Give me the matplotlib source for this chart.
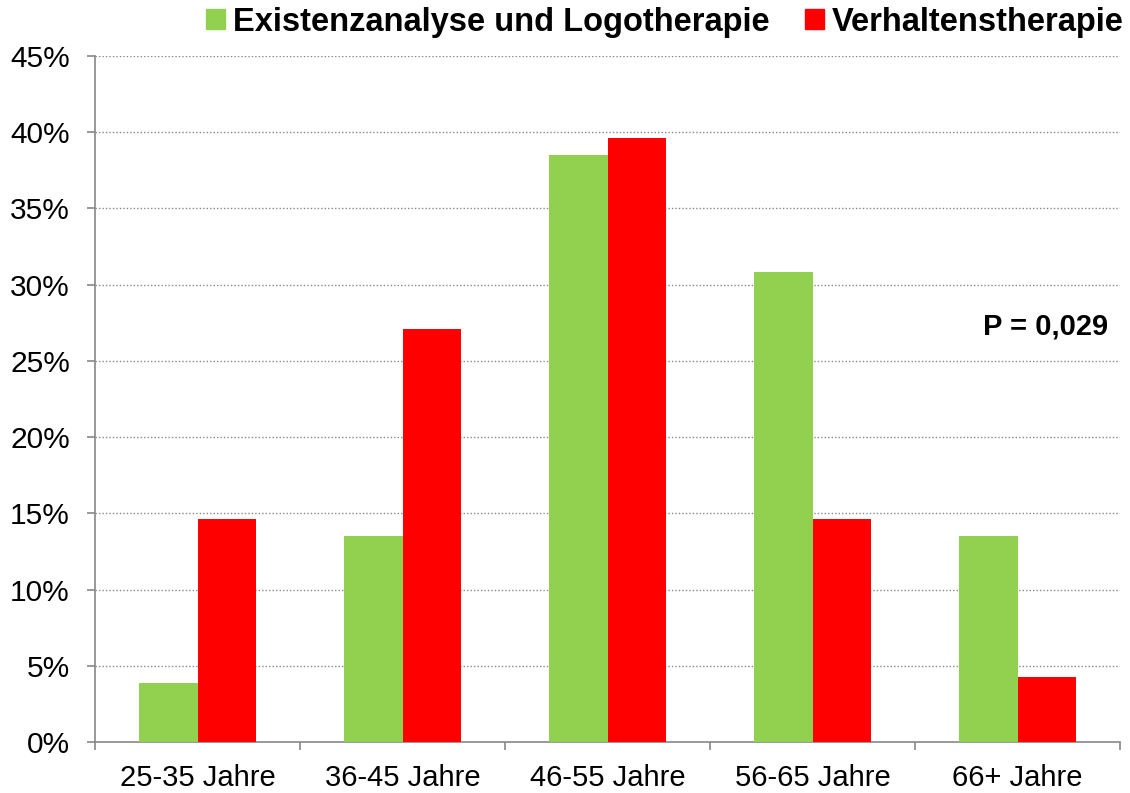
import numpy as np
import matplotlib
matplotlib.use("Agg")
import matplotlib.pyplot as plt
from matplotlib.patches import Patch
from matplotlib.ticker import PercentFormatter, MultipleLocator

# Data
categories = ["25-35 Jahre", "36-45 Jahre", "46-55 Jahre", "56-65 Jahre", "66+ Jahre"]
logo = [3.85, 13.5, 38.5, 30.8, 13.5]
verhalten = [14.6, 27.1, 39.6, 14.6, 4.25]
series_names = ["Existenzanalyse und Logotherapie", "Verhaltenstherapie"]
p_label = "P = 0,029"

green = "#92D050"
red = "#FF0000"
axis_gray = "#888888"

plt.rcParams["font.family"] = ["Liberation Sans", "DejaVu Sans"]

fig = plt.figure(figsize=(11.3, 7.93), dpi=100)
ax = fig.add_axes([95 / 1130, 1 - 742 / 793, 1025 / 1130, 686 / 793])

x = np.arange(len(categories))
w = 0.287
ax.bar(x - w / 2, logo, width=w, color=green, zorder=3)
ax.bar(x + w / 2, verhalten, width=w, color=red, zorder=3)

ax.set_xlim(-0.5, len(categories) - 0.5)
ax.set_ylim(0, 45)
ax.yaxis.set_major_locator(MultipleLocator(5))
ax.yaxis.set_major_formatter(PercentFormatter(decimals=0))

# dotted gridlines
for v in np.arange(5, 46, 5):
    ax.axhline(v, color=axis_gray, linestyle=(0, (1, 1.5)), linewidth=1, zorder=1)

ax.set_xticks(x)
ax.set_xticklabels(categories)
ax.set_xticks(np.arange(-0.5, len(categories)), minor=True)
ax.tick_params(axis="x", which="major", length=0, pad=16, labelsize=21)
ax.tick_params(axis="x", which="minor", length=6, width=1.2, color=axis_gray)
ax.tick_params(axis="y", length=6, width=1.2, color=axis_gray, pad=12, labelsize=21.5)

for side in ["top", "right"]:
    ax.spines[side].set_visible(False)
for side in ["left", "bottom"]:
    ax.spines[side].set_color(axis_gray)
    ax.spines[side].set_linewidth(1.2)

ax.text(0.988, 0.606, p_label, transform=ax.transAxes, ha="right", va="center",
        fontsize=21, fontweight="bold")

handles = [Patch(color=green), Patch(color=red)]
leg = fig.legend(handles, series_names, loc="center right", bbox_to_anchor=(1124 / 1130, 1 - 22 / 793),
                 ncol=2, frameon=False, handlelength=0.58, handleheight=0.58,
                 handletextpad=0.25, columnspacing=1.07, borderaxespad=0, borderpad=0,
                 prop={"size": 23.5, "weight": "bold"})

fig.savefig("out.png", dpi=100)
